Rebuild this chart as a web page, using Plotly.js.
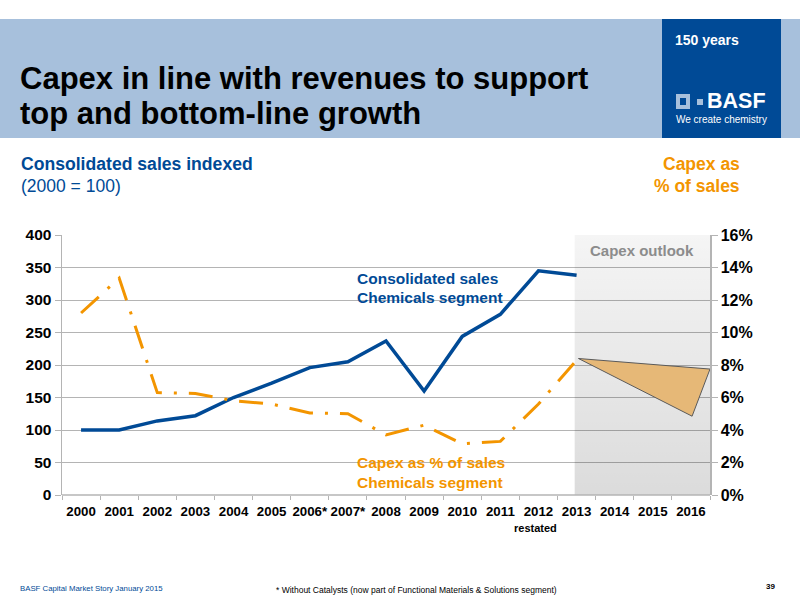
<!DOCTYPE html>
<html><head><meta charset="utf-8">
<script src="https://cdn.plot.ly/plotly-3.0.1.min.js"></script>
<style>html,body{margin:0;padding:0;background:#fff}#c{width:800px;height:600px}</style>
</head><body><div id="c"></div>
<script>
const years=["2000","2001","2002","2003","2004","2005","2006*","2007*","2008","2009","2010","2011","2012","2013","2014","2015","2016"];
const yearPos=[0,1,2,3,4,5,6,7,8,9,10,11,12,13,14,15,16];
const yearEdges=[-0.5,0.5,1.5,2.5,3.5,4.5,5.5,6.5,7.5,8.5,9.5,10.5,11.5,12.5,13.5,14.5,15.5,16.5];
const salesPos=[0,1,2,3,4,5,6,7,8,9,10,11,12,13];
const salesIndex=[100,100,114,122,150,172,196,205,237,160,244,278,345,338];
const capexPct=[11.2,13.35,6.3,6.25,5.8,5.6,5.05,5.0,3.7,4.3,3.15,3.3,5.6,8.3];
const outlookX=[13.05,16.5,16.03,13.05];
const outlookY=[8.4,7.75,4.85,8.4];
const shadeX=[12.95,16.5,16.5,12.95,12.95];
const shadeY=[16,16,0,0,16];
const leftTicks=[0,50,100,150,200,250,300,350,400];
const rightTicks=[0,2,4,6,8,10,12,14,16];
const rightLabels=["0%","2%","4%","6%","8%","10%","12%","14%","16%"];

const W=800,H=600;
const px=(x)=>x/W, py=(y)=>1-y/H;
const sans='"Liberation Sans",Arial,sans-serif';
const BLUE='#004a96', ORANGE='#f39500', GRID='#b4b4b4';

function note(text,x,y,size,color,anchor,bold,yan){
  return {text:bold?'<b>'+text+'</b>':text,xref:'paper',yref:'paper',x:px(x),y:py(y),xanchor:anchor||'left',yanchor:yan||'middle',
    showarrow:false,font:{family:sans,size:size,color:color||'#000'},align:anchor||'left',borderpad:0,borderwidth:0};
}
function rect(x0,y0,x1,y1,color){
  return {type:'rect',xref:'paper',yref:'paper',x0:px(x0),x1:px(x1),y0:py(y0),y1:py(y1),fillcolor:color,line:{width:0},layer:'below'};
}

const traces=[
 {x:shadeX,y:shadeY,yaxis:'y2',mode:'lines',line:{width:0},fill:'toself',hoverinfo:'skip',showlegend:false,
  fillgradient:{type:'vertical',colorscale:[[0,'rgba(0,0,0,0.14)'],[1,'rgba(0,0,0,0.04)']]}},
 {x:salesPos,y:salesIndex,mode:'lines',line:{color:BLUE,width:3.5},showlegend:false},
 {x:salesPos,y:capexPct,yaxis:'y2',mode:'lines',line:{color:ORANGE,width:3,dash:'24px,12px,3px,12px'},showlegend:false},
 {x:outlookX,y:outlookY,yaxis:'y2',mode:'lines',line:{color:'#5a5a5a',width:1},fill:'toself',fillcolor:'#e6b877',showlegend:false}
];

const layout={
 width:W,height:H,margin:{l:0,r:0,t:0,b:0},paper_bgcolor:'#fff',plot_bgcolor:'rgba(0,0,0,0)',showlegend:false,
 font:{family:sans,color:'#000'},
 xaxis:{domain:[px(62),px(710)],range:[-0.5,16.5],tickmode:'array',tickvals:yearPos,ticktext:years,
   tickfont:{family:sans,size:13.3,color:'#000',weight:'bold'},ticks:'',showgrid:false,zeroline:false,showline:false,automargin:false,ticklabelstandoff:7,
   minor:{tickmode:'array',tickvals:yearEdges,ticks:'outside',ticklen:4,tickcolor:GRID,tickwidth:1,showgrid:false}},
 yaxis:{domain:[py(495),py(235)],range:[0,400],tickmode:'array',tickvals:leftTicks,
   tickfont:{family:sans,size:15.5,color:'#000',weight:'bold'},ticks:'outside',ticklen:6,tickcolor:GRID,gridcolor:GRID,gridwidth:1,
   zeroline:false,showline:true,linecolor:GRID,linewidth:1.5,automargin:false},
 yaxis2:{domain:[py(495),py(235)],range:[0,16],overlaying:'y',side:'right',anchor:'x',tickmode:'array',tickvals:rightTicks,ticktext:rightLabels,
   tickfont:{family:sans,size:16,color:'#000',weight:'bold'},ticks:'outside',ticklen:6,tickcolor:GRID,showgrid:false,
   zeroline:false,showline:true,linecolor:GRID,linewidth:1.5,automargin:false},
 shapes:[
  rect(0,19,800,138,'#a7c0dc'),
  rect(662,19,781,138,BLUE),
  rect(676,94,690,109,'#a7c0dc'),
  rect(680,98,686,105,BLUE),
  rect(697,99,703,105,'#a7c0dc'),
  {type:'line',xref:'paper',yref:'paper',x0:px(62),x1:px(710),y0:py(495),y1:py(495),line:{color:GRID,width:1.5}}
 ],
 annotations:[
  note('Capex in line with revenues to support',20,78,31,'#000','left',true),
  note('top and bottom-line growth',20,114,31,'#000','left',true),
  note('150 years',675,40,14,'#fff','left',true),
  note('BASF',707,101,21.5,'#fff','left',true),
  note('We create chemistry',676,120,10,'#fff','left',false),
  note('Consolidated sales indexed',21,164,17.6,BLUE,'left',true),
  note('(2000 = 100)',21,186,17.5,BLUE,'left',false),
  note('Capex as',740,164,17.5,ORANGE,'right',true),
  note('% of sales',740,186,17.5,ORANGE,'right',true),
  note('Capex outlook',642,250,15,'#8c8c8c','center',true),
  note('Consolidated sales',357,278,15.5,BLUE,'left',true),
  note('Chemicals segment',357,298,15.5,BLUE,'left',true),
  note('Capex as % of sales',357,463,15.5,ORANGE,'left',true),
  note('Chemicals segment',357,482,15.5,ORANGE,'left',true),
  note('restated',535,528,11,'#000','center',true),
  note('BASF Capital Market Story January 2015',20,588,7.8,BLUE,'left',false),
  note('* Without Catalysts (now part of Functional Materials &amp; Solutions segment)',416,590,8.5,'#000','center',false),
  note('39',770,586,8,'#000','center',true)
 ]
};
Plotly.newPlot('c',traces,layout,{staticPlot:true,displayModeBar:false});
</script></body></html>
